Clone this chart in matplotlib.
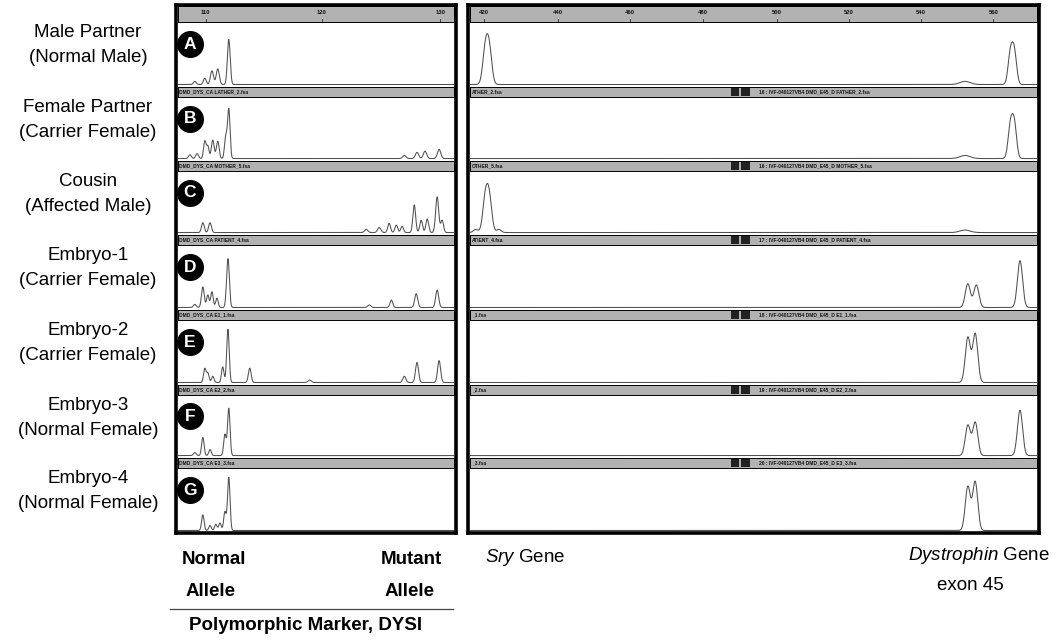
import numpy as np
import matplotlib.pyplot as plt

plt.rcParams['font.family'] = ['Liberation Sans', 'DejaVu Sans']
plt.rcParams['mathtext.fontset'] = 'custom'
plt.rcParams['mathtext.it'] = 'Liberation Sans:italic'
plt.rcParams['mathtext.rm'] = 'Liberation Sans'

W, H = 1056, 640

# row labels
subjects = ["Male Partner", "Female Partner", "Cousin", "Embryo-1",
            "Embryo-2", "Embryo-3", "Embryo-4"]
status = ["(Normal Male)", "(Carrier Female)", "(Affected Male)",
          "(Carrier Female)", "(Carrier Female)", "(Normal Female)",
          "(Normal Female)"]
letters = ["A", "B", "C", "D", "E", "F", "G"]

# peaks: (position, relative height, width)
marker_peaks = [
    [(6.1, 0.05, 0.5), (9.7, 0.10, 0.5), (12.3, 0.22, 0.55), (14.4, 0.25, 0.55),
     (18.4, 0.72, 0.5)],
    [(4.3, 0.06, 0.5), (6.9, 0.08, 0.5), (9.7, 0.28, 0.45), (10.8, 0.20, 0.45),
     (12.6, 0.30, 0.5), (14.4, 0.28, 0.5), (17.3, 0.35, 0.45), (18.4, 0.80, 0.45),
     (82.0, 0.05, 0.6), (86.6, 0.10, 0.6), (89.5, 0.12, 0.6), (94.6, 0.15, 0.6)],
    [(9.0, 0.16, 0.5), (11.6, 0.16, 0.5), (68.2, 0.05, 0.6), (72.9, 0.08, 0.6),
     (76.5, 0.15, 0.5), (79.1, 0.12, 0.5), (81.2, 0.10, 0.5), (85.6, 0.45, 0.5),
     (88.1, 0.20, 0.5), (90.3, 0.22, 0.5), (93.9, 0.58, 0.55), (95.7, 0.20, 0.5)],
    [(6.1, 0.05, 0.5), (9.0, 0.33, 0.5), (10.8, 0.20, 0.45), (12.3, 0.25, 0.45),
     (14.1, 0.15, 0.45), (18.1, 0.78, 0.5), (69.3, 0.04, 0.6), (77.3, 0.12, 0.5),
     (86.3, 0.22, 0.55), (93.9, 0.28, 0.55)],
    [(9.7, 0.22, 0.45), (10.8, 0.15, 0.45), (12.6, 0.10, 0.45), (16.2, 0.25, 0.45),
     (18.1, 0.85, 0.45), (26.0, 0.23, 0.5), (47.7, 0.04, 0.6), (82.0, 0.10, 0.55),
     (86.6, 0.32, 0.55), (94.6, 0.35, 0.55)],
    [(6.1, 0.05, 0.5), (9.0, 0.30, 0.45), (11.6, 0.10, 0.45), (17.0, 0.35, 0.45),
     (18.4, 0.78, 0.45)],
    [(9.0, 0.25, 0.45), (11.6, 0.08, 0.45), (13.7, 0.10, 0.45), (15.2, 0.12, 0.45),
     (17.0, 0.30, 0.45), (18.4, 0.85, 0.45)],
]

gene_peaks = [
    [(2.7, 0.55, 0.45), (3.4, 0.55, 0.45), (87.3, 0.05, 0.9), (95.3, 0.49, 0.4),
     (96.0, 0.51, 0.4)],
    [(87.3, 0.05, 0.9), (95.3, 0.52, 0.4), (96.0, 0.55, 0.4)],
    [(1.0, 0.05, 0.4), (2.7, 0.54, 0.45), (3.4, 0.54, 0.45), (5.1, 0.05, 0.4),
     (87.3, 0.04, 0.9)],
    [(87.8, 0.38, 0.45), (89.3, 0.36, 0.45), (97.0, 0.75, 0.45)],
    [(87.8, 0.72, 0.45), (89.1, 0.78, 0.45)],
    [(87.8, 0.50, 0.45), (89.1, 0.55, 0.45), (97.0, 0.75, 0.45)],
    [(87.8, 0.70, 0.45), (89.1, 0.78, 0.45)],
]

marker_files = ["DMD_DYS_CA LATHER_2.fsa", "DMD_DYS_CA MOTHER_5.fsa",
                "DMD_DYS_CA PATIENT_4.fsa", "DMD_DYS_CA E1_1.fsa",
                "DMD_DYS_CA E2_2.fsa", "DMD_DYS_CA E3_3.fsa"]
gene_files = ["ATHER_2.fsa", "OTHER_5.fsa", "ATIENT_4.fsa", "_1.fsa",
              "_2.fsa", "_3.fsa"]
gene_runs = ["16 : IVF-040127VB4 DMD_E45_D FATHER_2.fsa",
             "16 : IVF-040127VB4 DMD_E45_D MOTHER_5.fsa",
             "17 : IVF-040127VB4 DMD_E45_D PATIENT_4.fsa",
             "18 : IVF-040127VB4 DMD_E45_D E1_1.fsa",
             "19 : IVF-040127VB4 DMD_E45_D E2_2.fsa",
             "20 : IVF-040127VB4 DMD_E45_D E3_3.fsa"]

marker_ticks = [10, 52, 95]
marker_tick_labels = ["110", "120", "130"]
gene_ticks = [2.5, 15.5, 28.2, 41.1, 54.1, 66.8, 79.5, 92.3]
gene_tick_labels = ["420", "440", "460", "480", "500", "520", "540", "560"]

# layout (pixels)
row_top = [22, 97, 171, 245, 320, 395, 468]
row_bot = [87, 161, 235, 310, 385, 458, 533]
panels = [(176, 456), (468, 1039)]
inner = [(178, 454), (470, 1037)]
top, bottom = 5, 533
strip_color = "#b2b2b2"


def box(x0, y0, x1, y1):
    return [x0 / W, 1 - y1 / H, (x1 - x0) / W, (y1 - y0) / H]


fig = plt.figure(figsize=(W / 100, H / 100), dpi=100)

x = np.linspace(0, 100, 2000)

for p, (px0, px1) in enumerate(panels):
    frame = fig.add_axes(box(px0, top, px1, bottom))
    frame.set_xticks([])
    frame.set_yticks([])
    for s in frame.spines.values():
        s.set_linewidth(2.6)
    frame.set_zorder(5)
    frame.patch.set_alpha(0)

    ix0, ix1 = inner[p]
    # ruler strip
    ruler = fig.add_axes(box(ix0, top + 1, ix1, row_top[0]))
    ruler.set_facecolor(strip_color)
    ruler.set_xlim(0, 100)
    ruler.set_ylim(0, 1)
    ruler.set_xticks([])
    ruler.set_yticks([])
    for s in ruler.spines.values():
        s.set_linewidth(0.7)
    ticks = marker_ticks if p == 0 else gene_ticks
    tlabels = marker_tick_labels if p == 0 else gene_tick_labels
    for t, lab in zip(ticks, tlabels):
        ruler.text(t, 0.6, lab, fontsize=4.2, fontweight="bold", color="#111",
                   ha="center", va="center")
        ruler.plot([t, t], [0, 0.18], color="#333", lw=0.6)

    for r in range(7):
        ax = fig.add_axes(box(ix0, row_top[r], ix1, row_bot[r]))
        ax.patch.set_alpha(0)
        peaks = marker_peaks[r] if p == 0 else gene_peaks[r]
        y = np.zeros_like(x)
        for pos, h, w in peaks:
            y += h * np.exp(-0.5 * ((x - pos) / w) ** 2)
        ax.plot(x, y, color="#505050", lw=0.75)
        ax.set_xlim(0, 100)
        ax.set_ylim(-0.04, 1.0)
        ax.axis("off")
        if p == 0:
            ax.scatter([0.043], [0.66], s=340, color="black",
                       transform=ax.transAxes, clip_on=False, zorder=3)
            ax.text(0.043, 0.66, letters[r], transform=ax.transAxes,
                    color="white", fontsize=12.5, fontweight="bold",
                    ha="center", va="center", zorder=4)
            yc = 1 - (row_top[r] + 23) / H
            fig.text(88 / W, yc, subjects[r] + "\n" + status[r],
                     ha="center", va="center", fontsize=13.5, linespacing=1.55)

        if r < 6:
            st = fig.add_axes(box(ix0, row_bot[r], ix1, row_top[r + 1]))
            st.set_facecolor(strip_color)
            st.set_xlim(0, 100)
            st.set_ylim(0, 1)
            st.set_xticks([])
            st.set_yticks([])
            for s in st.spines.values():
                s.set_linewidth(0.7)
            if p == 0:
                st.text(0.5, 0.5, marker_files[r], fontsize=3.5,
                        fontweight="bold", color="#111", va="center")
            else:
                st.text(0.3, 0.5, gene_files[r], fontsize=3.5,
                        fontweight="bold", color="#111", va="center")
                st.bar([46.0, 47.8], [0.8, 0.8], width=1.5, bottom=0.1,
                       color="#222", align="edge")
                st.text(51.0, 0.5, gene_runs[r], fontsize=3.5,
                        fontweight="bold", color="#111", va="center")

# bottom annotations
fig.text(214 / W, 1 - 560 / H, "Normal", ha="center", va="center",
         fontsize=13.5, fontweight="bold")
fig.text(211 / W, 1 - 592 / H, "Allele", ha="center", va="center",
         fontsize=13.5, fontweight="bold")
fig.text(411 / W, 1 - 560 / H, "Mutant", ha="center", va="center",
         fontsize=13.5, fontweight="bold")
fig.text(410 / W, 1 - 592 / H, "Allele", ha="center", va="center",
         fontsize=13.5, fontweight="bold")
fig.add_artist(plt.Line2D([170 / W, 453 / W], [1 - 609 / H, 1 - 609 / H],
                          color="#444", lw=0.9))
fig.text(306 / W, 1 - 626 / H, "Polymorphic Marker, DYSI", ha="center",
         va="center", fontsize=13.5, fontweight="bold")
fig.text(485 / W, 1 - 558 / H, r"$\mathit{Sry}$ Gene", ha="left",
         va="center", fontsize=13.5)
fig.text(1050 / W, 1 - 556 / H, r"$\mathit{Dystrophin}$ Gene", ha="right",
         va="center", fontsize=13.5)
fig.text(970 / W, 1 - 586 / H, "exon 45", ha="center", va="center",
         fontsize=13.5)

fig.savefig("out.png", dpi=100)
